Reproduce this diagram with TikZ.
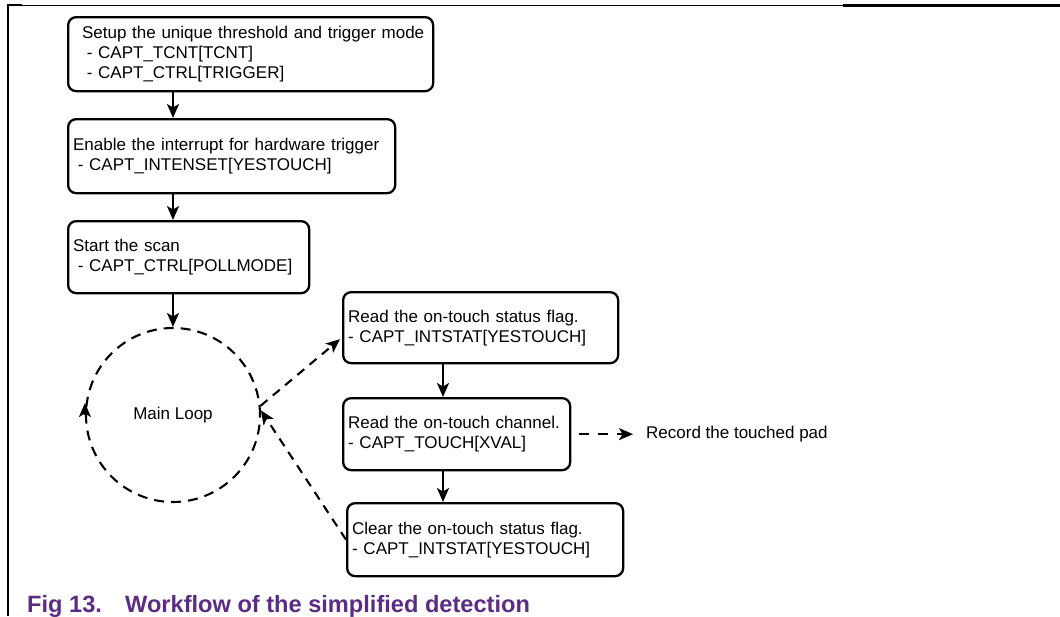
\documentclass[tikz,border=0pt]{standalone}
\usepackage{fontspec}
\setmainfont{Liberation Sans}
\usetikzlibrary{arrows.meta,calc}
\definecolor{capviolet}{HTML}{5B2C84}
\begin{document}
\begin{tikzpicture}[x=1pt,y=-1pt,
  every node/.style={font=\fontsize{17}{20}\selectfont},
  stepbox/.style={draw,line width=2.3pt,rounded corners=8pt,anchor=north west,
    align=left,inner xsep=5pt,inner ysep=0pt},
  tip/.style={-{Stealth[length=14pt,width=12pt,inset=3.5pt]}},
  flow/.style={line width=2pt,tip},
  dflow/.style={line width=2.1pt,dash pattern=on 9pt off 7pt,tip},
  captext/.style={anchor=base west,inner sep=0pt,text=capviolet,
    font=\fontsize{23.6}{28}\selectfont\bfseries},
]
\useasboundingbox (0,0) rectangle (1060,616);

% page frame
\draw[line width=2.4pt] (8,616) -- (8,5) -- (22,5);
\draw[line width=1pt] (22,5) -- (843,5);
\draw[line width=2.2pt] (843,5.5) -- (1060,5.5);

% set-up steps
\node[stepbox,inner xsep=14pt,text width=337pt,minimum height=74pt] (b1) at (67,16)
  {\mbox{Setup the unique threshold and trigger mode}\\\hspace*{4.7pt}- CAPT\_TCNT[TCNT]\\\hspace*{4.7pt}- CAPT\_CTRL[TRIGGER]};
\node[stepbox,text width=317pt,minimum height=74pt] (b2) at (67,118)
  {\mbox{Enable the interrupt for hardware trigger}\\\hspace*{4.7pt}- CAPT\_INTENSET[YESTOUCH]};
\node[stepbox,text width=231pt,minimum height=72pt] (b3) at (67,220)
  {Start the scan\\\hspace*{4.7pt}- CAPT\_CTRL[POLLMODE]};

% main loop
\node[circle,draw,line width=2.1pt,dash pattern=on 10pt off 7pt,minimum size=174pt,inner sep=0pt]
  (loop) at (173,415) {Main Loop};
\draw[line width=2.1pt,tip] (loop.west) -- ($(loop.west)+(0,-12)$);

% interrupt handling steps
\node[stepbox,text width=265pt,minimum height=71pt] (b4) at (342,291)
  {\mbox{Read the on-touch status flag.}\\- CAPT\_INTSTAT[YESTOUCH]};
\node[stepbox,text width=217pt,minimum height=72pt] (b5) at (342,397)
  {\mbox{Read the on-touch channel.}\\- CAPT\_TOUCH[XVAL]};
\node[stepbox,text width=266pt,minimum height=73pt] (b6) at (346,502)
  {\mbox{Clear the on-touch status flag.}\\- CAPT\_INTSTAT[YESTOUCH]};
\node[anchor=west,inner sep=0pt] (rec) at (646,434) {Record the touched pad};

\coordinate (col) at (443,0);

% connectors
\draw[flow] (b1.south -| loop.north) -- (b2.north -| loop.north);
\draw[flow] (b2.south -| loop.north) -- (b3.north -| loop.north);
\draw[flow] (b3.south -| loop.north) -- (loop.north);
\draw[flow] (b4.south -| col) -- (b5.north -| col);
\draw[flow] (b5.south -| col) -- (b6.north -| col);
\draw[dflow] (loop.6) -- ($(b4.west)+(-2,11.5)$);
\draw[dflow] (b6.west) -- (loop.3);
\draw[dflow,dash pattern=on 10pt off 9pt,shorten <=8pt,shorten >=13pt] (b5.east) -- (b5.east -| rec.west);

% caption
\node[captext] (fig) at (27,612) {Fig 13.};
\node[captext] (title) at (125,612) {Workflow of the simplified detection};
\end{tikzpicture}
\end{document}
